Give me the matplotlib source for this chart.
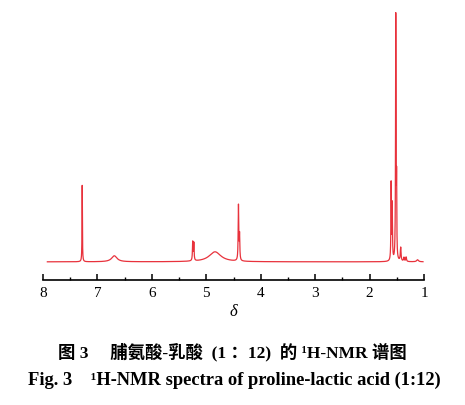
import numpy as np
import matplotlib
matplotlib.use('Agg')
import matplotlib.pyplot as plt
from matplotlib.ticker import MultipleLocator

# peak list (ppm, relative height, half width ppm)
peak_ppm = [7.28, 6.69, 5.25, 5.23, 4.84, 4.41, 4.39, 1.605, 1.585, 1.52, 1.505, 1.43, 1.37, 1.33, 1.12]
peak_height = [31.0, 2.4, 7.5, 7.0, 4.0, 22.0, 10.0, 31.0, 22.0, 98.0, 28.0, 5.5, 1.6, 1.8, 0.8]
peak_width = [0.004, 0.06, 0.006, 0.006, 0.13, 0.006, 0.006, 0.005, 0.005, 0.005, 0.004, 0.008, 0.008, 0.008, 0.02]

x_ticks = [8, 7, 6, 5, 4, 3, 2, 1]
x_label = 'δ'
caption_cn = '图 3　 脯氨酸-乳酸  (1 ：12)  的 ¹H-NMR 谱图'
caption_en = 'Fig. 3    ¹H-NMR spectra of proline-lactic acid (1:12)'

ppm = np.linspace(7.92, 1.02, 6000)
signal = np.zeros_like(ppm)
for c, h, w in zip(peak_ppm, peak_height, peak_width):
    signal += h * w**2 / ((ppm - c)**2 + w**2)

fig = plt.figure(figsize=(4.65, 4.05), dpi=100)
ax = fig.add_axes([0.0925, 0.309, 0.8195, 0.672])
ax.plot(ppm, signal, color='#e8323c', lw=0.9)

ax.set_xlim(8, 1)
ax.set_ylim(-7.2, 101.6)
for s in ['top', 'left', 'right']:
    ax.spines[s].set_visible(False)
ax.spines['bottom'].set_linewidth(1.2)
ax.set_yticks([])
ax.set_xticks(x_ticks)
ax.xaxis.set_minor_locator(MultipleLocator(0.5))
ax.tick_params(axis='x', which='major', direction='in', length=4, width=1.1, pad=5,
               labelsize=11, labelfontfamily='Liberation Serif')
ax.tick_params(axis='x', which='minor', direction='in', length=2.5, width=1.0)
ax.set_xlabel(x_label, fontsize=12, family='Liberation Serif', style='italic', labelpad=3)

fig.text(0.5, 1 - 352 / 405, caption_cn, ha='center', va='center', fontsize=12.5,
         fontweight='bold', family=['Liberation Serif', 'Noto Sans CJK SC'])
fig.text(0.505, 1 - 380 / 405, caption_en, ha='center', va='center', fontsize=13.3,
         fontweight='bold', family=['Liberation Serif', 'Noto Sans CJK SC'])

fig.savefig('out.png', dpi=100)
